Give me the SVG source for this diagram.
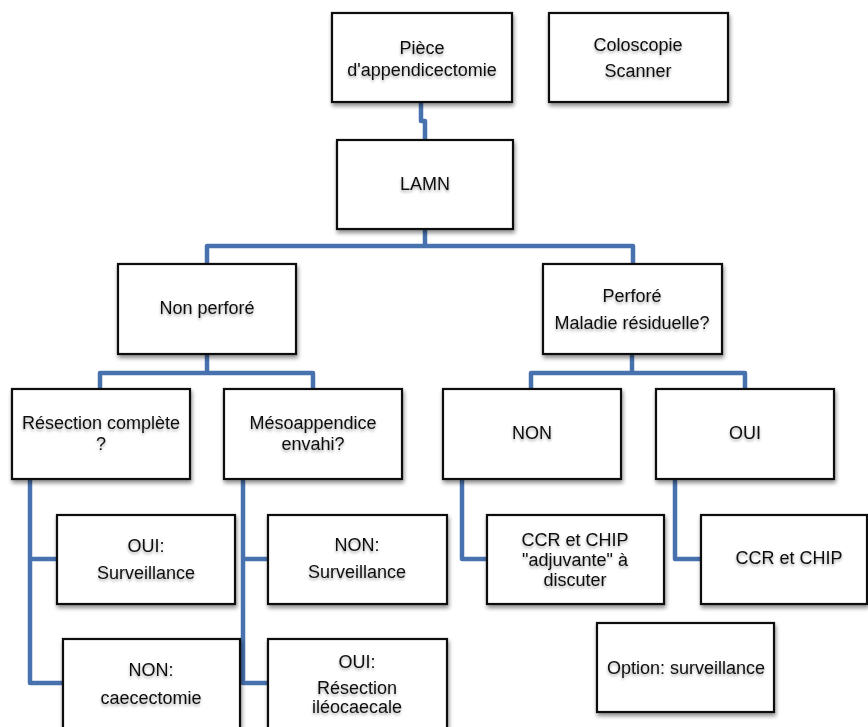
<svg xmlns="http://www.w3.org/2000/svg" width="868" height="727" viewBox="0 0 868 727">
<defs>
<filter id="sh" x="-10%" y="-10%" width="125%" height="130%">
<feGaussianBlur in="SourceAlpha" stdDeviation="2"/>
<feOffset dx="1" dy="3" result="b"/>
<feComponentTransfer><feFuncA type="linear" slope="0.45"/></feComponentTransfer>
<feMerge><feMergeNode/><feMergeNode in="SourceGraphic"/></feMerge>
</filter>
<filter id="tsh" x="-10%" y="-30%" width="120%" height="170%">
<feGaussianBlur in="SourceAlpha" stdDeviation="1.5"/>
<feOffset dx="0" dy="2"/>
<feComponentTransfer><feFuncA type="linear" slope="0.35"/></feComponentTransfer>
<feMerge><feMergeNode/><feMergeNode in="SourceGraphic"/></feMerge>
</filter>
</defs>
<style>
.box{fill:#fff;stroke:#111;stroke-width:2.2;filter:url(#sh)}
.t{font-family:"Liberation Sans",Arial,sans-serif;font-size:18px;fill:#111;text-anchor:middle;filter:url(#tsh)}
.c{fill:none;stroke:#4872ae;stroke-width:4.5;stroke-linejoin:round}
</style>
<rect width="868" height="727" fill="#fff"/>
<g id="connectors">
<path class="c" d="M421,102 V121 H425 V140"/>
<path class="c" d="M425,229 V246"/>
<path class="c" d="M207,264 V246 H633 V264"/>
<path class="c" d="M100,389 V373 H313 V389"/>
<path class="c" d="M207,354 V373"/>
<path class="c" d="M531,389 V373 H745 V389"/>
<path class="c" d="M632,354 V373"/>
<path class="c" d="M30,479 V683 H63"/>
<path class="c" d="M30,559 H57"/>
<path class="c" d="M243,479 V683 H268"/>
<path class="c" d="M243,559 H268"/>
<path class="c" d="M462,479 V559 H487"/>
<path class="c" d="M675,479 V559 H701"/>
</g>
<g id="piece"><rect class="box" x="332" y="13" width="180" height="89"/><text class="t" x="422" y="54">Pièce</text><text class="t" x="422" y="76">d'appendicectomie</text></g>
<g id="coloscopie"><rect class="box" x="549" y="13" width="179" height="89"/><text class="t" x="638" y="51">Coloscopie</text><text class="t" x="638" y="77">Scanner</text></g>
<g id="lamn"><rect class="box" x="337" y="140" width="176" height="89"/><text class="t" x="425" y="190">LAMN</text></g>
<g id="nonperfore"><rect class="box" x="118" y="264" width="178" height="90"/><text class="t" x="207" y="314">Non perforé</text></g>
<g id="perfore"><rect class="box" x="543" y="264" width="179" height="90"/><text class="t" x="632" y="302">Perforé</text><text class="t" x="632" y="329">Maladie résiduelle?</text></g>
<g id="resection"><rect class="box" x="12" y="389" width="178" height="90"/><text class="t" x="101" y="429">Résection complète</text><text class="t" x="101" y="450">?</text></g>
<g id="meso"><rect class="box" x="224" y="389" width="178" height="90"/><text class="t" x="313" y="429">Mésoappendice</text><text class="t" x="313" y="450">envahi?</text></g>
<g id="non"><rect class="box" x="443" y="389" width="178" height="90"/><text class="t" x="532" y="439">NON</text></g>
<g id="oui"><rect class="box" x="656" y="389" width="178" height="90"/><text class="t" x="745" y="439">OUI</text></g>
<g id="oui-surv"><rect class="box" x="57" y="515" width="178" height="89"/><text class="t" x="146" y="552">OUI:</text><text class="t" x="146" y="579">Surveillance</text></g>
<g id="non-caec"><rect class="box" x="63" y="639" width="177" height="100"/><text class="t" x="151" y="676">NON:</text><text class="t" x="151" y="704">caecectomie</text></g>
<g id="non-surv"><rect class="box" x="268" y="515" width="179" height="89"/><text class="t" x="357" y="551">NON:</text><text class="t" x="357" y="578">Surveillance</text></g>
<g id="oui-resec"><rect class="box" x="268" y="639" width="179" height="100"/><text class="t" x="357" y="668">OUI:</text><text class="t" x="357" y="694">Résection</text><text class="t" x="357" y="713">iléocaecale</text></g>
<g id="ccr-adj"><rect class="box" x="487" y="515" width="177" height="89"/><text class="t" x="575" y="546">CCR et CHIP</text><text class="t" x="575" y="566">"adjuvante" à</text><text class="t" x="575" y="586">discuter</text></g>
<g id="ccr"><rect class="box" x="701" y="515" width="166" height="89"/><text class="t" x="789" y="564">CCR et CHIP</text></g>
<g id="option"><rect class="box" x="597" y="623" width="177" height="89"/><text class="t" x="686" y="674">Option: surveillance</text></g>
</svg>
